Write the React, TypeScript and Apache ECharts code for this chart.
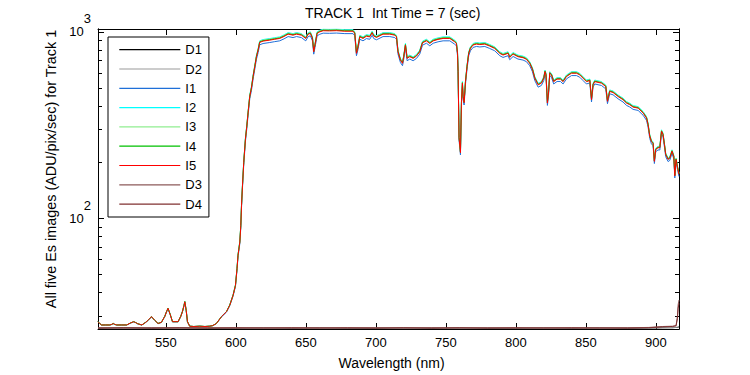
import React, { useEffect, useRef } from "react";
import * as echarts from "echarts";

// ---- data ----
const wavelength = [
  501.6, 503.0, 504.1, 507.1, 510.0, 511.5, 512.4, 513.5, 515.0, 518.6, 522.1, 525.0, 527.1, 528.5, 530.0,
  532.9, 535.7, 537.8, 539.8, 542.1, 544.5, 546.9, 549.3, 550.5, 551.6, 553.2, 554.8, 558.8, 560.7, 561.9,
  563.0, 563.6, 564.6, 565.5, 567.1, 570.0, 574.3, 578.0, 581.4, 583.6, 586.2, 589.8, 593.4, 595.7, 598.1,
  599.8, 600.9, 601.6, 602.9, 603.6, 604.1, 604.8, 605.7, 606.9, 607.9, 608.8, 610.0, 611.2, 612.4, 613.6,
  614.8, 616.0, 617.1, 619.5, 624.3, 627.5, 631.4, 634.5, 637.4, 640.9, 643.4, 646.9, 650.0, 651.7, 653.3,
  654.8, 655.7, 656.6, 658.1, 660.0, 662.4, 667.0, 671.9, 677.9, 683.8, 685.0, 686.2, 687.1, 688.6, 690.9,
  693.3, 695.7, 697.4, 698.6, 700.5, 705.2, 710.0, 713.6, 714.8, 715.9, 717.6, 719.1, 720.0, 721.2, 722.4,
  724.3, 726.7, 729.1, 731.4, 733.4, 736.2, 738.6, 741.0, 744.5, 748.1, 752.9, 756.4, 757.6, 758.4, 758.8,
  759.5, 760.5, 761.2, 761.9, 762.4, 763.1, 764.1, 765.2, 766.4, 767.6, 769.5, 771.9, 774.3, 777.9, 781.4,
  785.0, 788.6, 790.9, 794.5, 795.7, 798.1, 801.6, 805.2, 807.6, 810.0, 811.9, 813.6, 816.0, 818.3, 820.0,
  820.9, 821.6, 822.6, 823.4, 824.3, 825.5, 827.1, 829.5, 831.9, 833.8, 836.2, 839.8, 843.4, 845.7, 848.1,
  850.5, 852.9, 854.1, 855.2, 856.4, 861.2, 864.3, 865.5, 867.1, 869.5, 873.1, 876.6, 879.1, 881.4, 883.8,
  887.4, 891.0, 893.4, 894.5, 895.7, 896.9, 898.1, 899.0, 900.0, 901.6, 902.9, 904.1, 905.2, 906.2, 907.1,
  908.8, 910.0, 911.6, 912.9, 913.6, 914.5, 915.5, 916.6,
];

// I5 (red) signal, ADU/pix/sec
const signalI5 = [
  27.9, 27.2, 26.8, 26.8, 26.8, 27.0, 27.3, 27.0, 26.8, 26.8, 26.8, 27.5, 27.9, 27.6, 27.2,
  26.8, 27.7, 28.6, 29.7, 28.4, 27.3, 27.7, 29.8, 31.5, 32.9, 30.5, 27.9, 27.9, 29.8, 31.6,
  34.0, 35.7, 32.1, 27.9, 26.4, 26.3, 26.4, 26.3, 26.4, 26.6, 27.3, 29.7, 31.6, 34.2, 38.7,
  43.7, 53.7, 63.2, 74.5, 91.3, 116.7, 149.2, 198.9, 264.7, 311.7, 367.3, 450.4, 499.3, 575.6, 650.8,
  735.8, 798.8, 878.1, 892, 903, 912, 922, 945, 972, 960, 972, 960, 922, 972, 981,
  922, 782, 850, 981, 1000, 1014, 1012, 1015, 1008, 1008, 981, 767, 815, 940, 922,
  948, 940, 988, 948, 934, 972, 972, 960, 940, 782, 706, 678, 736, 850, 721,
  736, 721, 742, 782, 874, 895, 867, 895, 911, 922, 922, 884, 867, 767, 612,
  270, 225, 417, 531, 450, 417, 541, 651, 767, 815, 850, 860, 855, 860, 839,
  815, 767, 751, 767, 730, 760, 736, 727, 713, 678, 630, 564, 520, 531, 564,
  612, 588, 415, 470, 600, 588, 541, 558, 558, 541, 576, 600, 600, 588, 564,
  541, 548, 433, 520, 541, 531, 509, 424, 479, 473, 450, 433, 415, 407, 395,
  390, 367, 345, 318, 276, 258, 252, 202, 234, 239, 239, 293, 281, 248, 220,
  207, 210, 229, 214, 169, 207, 188, 172,
];

const channelNames = ["I1", "I2", "I3", "I4", "I5"];
const channelGain = [0.97, 1.02, 1.013, 1.006, 1.0];
const channelColors = ["#1f6fd8", "#00ffff", "#90ee90", "#00c000", "#ff0000"];
const darkLevel = 26.0;

const darkNames = ["D1", "D2", "D3", "D4"];
const darkColors = ["#000000", "#999999", "#8c5a5a", "#803030"];
const darkWavelength = [
  501.6, 520, 540, 560, 580, 600, 620, 640, 660, 680, 700, 720, 740, 760, 780, 800, 820, 840, 860, 880,
  895, 905, 912, 914.5, 915.5, 916.0, 916.6,
];
const darkD1 = [
  25.7, 25.8, 25.7, 25.8, 25.7, 25.7, 25.8, 25.7, 25.8, 25.7, 25.7, 25.8, 25.7, 25.8, 25.7, 25.7, 25.8, 25.7, 25.8, 25.7,
  25.8, 25.9, 25.9, 26.0, 26.0, 26.1, 26.2,
];
const darkD2 = [
  25.8, 25.7, 25.8, 25.7, 25.8, 25.8, 25.7, 25.8, 25.7, 25.8, 25.8, 25.7, 25.8, 25.7, 25.8, 25.8, 25.7, 25.8, 25.7, 25.8,
  25.8, 25.9, 26.0, 26.0, 26.1, 26.2, 26.3,
];
const darkD3 = [
  25.9, 25.8, 25.9, 25.8, 25.9, 25.8, 25.9, 25.8, 25.9, 25.8, 25.9, 25.8, 25.9, 25.8, 25.9, 25.8, 25.9, 25.8, 25.9, 25.9,
  26.0, 26.3, 26.4, 26.6, 30.0, 34.5, 36.5,
];
const darkD4 = [
  25.8, 25.9, 25.8, 25.9, 25.8, 25.9, 25.8, 25.9, 25.8, 25.9, 25.8, 25.9, 25.8, 25.9, 25.8, 25.9, 25.8, 25.9, 25.8, 25.8,
  25.9, 26.2, 26.3, 26.5, 29.0, 33.0, 35.0,
];

const legendOrder = ["D1", "D2", "I1", "I2", "I3", "I4", "I5", "D3", "D4"];
const xTicks = [550, 600, 650, 700, 750, 800, 850, 900];
const yMajorTicks = [100, 1000];
const yMinorTicks = [30, 40, 50, 60, 70, 80, 90, 200, 300, 400, 500, 600, 700, 800, 900];
const xLimits = [501.6, 916.6];
const yLimits = [25.5, 1036];

const FONT = "'Liberation Sans', Arial, Helvetica, sans-serif";

export default function App() {
  const ref = useRef<HTMLDivElement>(null);

  useEffect(() => {
    if (!ref.current) return;
    const chart = echarts.init(ref.current, undefined, { renderer: "svg" });

    const colorOf: Record<string, string> = {};
    channelNames.forEach((n, k) => (colorOf[n] = channelColors[k]));
    darkNames.forEach((n, k) => (colorOf[n] = darkColors[k]));

    const lineSeries = (name: string, xs: number[], ys: number[]) => ({
      name,
      type: "line",
      xAxisIndex: 0,
      yAxisIndex: 0,
      symbol: "none",
      silent: true,
      color: colorOf[name],
      lineStyle: { color: colorOf[name], width: 1 },
      itemStyle: { color: colorOf[name] },
      emphasis: { disabled: true },
      data: xs.map((x, i) => [x, ys[i]]),
    });

    const iSeries = channelNames.map((n, k) =>
      lineSeries(
        n,
        wavelength,
        signalI5.map((v) => darkLevel + channelGain[k] * (v - darkLevel))
      )
    );

    const series = [
      lineSeries("D1", darkWavelength, darkD1),
      lineSeries("D2", darkWavelength, darkD2),
      ...iSeries,
      lineSeries("D3", darkWavelength, darkD3),
      lineSeries("D4", darkWavelength, darkD4),
    ];

    const axisLine = { show: true, onZero: false, lineStyle: { color: "#000", width: 1 } };
    const yBase = {
      type: "log",
      logBase: 10,
      min: yLimits[0],
      max: yLimits[1],
      axisLine,
      splitLine: { show: false },
      minorTick: { show: false },
    };

    const option = {
      animation: false,
      backgroundColor: "#ffffff",
      title: {
        text: "TRACK 1  Int Time = 7 (sec)",
        left: 305,
        top: 6,
        padding: 0,
        textStyle: { fontFamily: FONT, fontSize: 14, fontWeight: "normal", color: "#000" },
      },
      legend: {
        orient: "vertical",
        left: 108,
        top: 37,
        padding: [5.7, 7, 5.9, 10.7],
        itemWidth: 61,
        itemHeight: 14,
        itemGap: 5.3,
        backgroundColor: "#ffffff",
        borderColor: "#000000",
        borderWidth: 1,
        borderRadius: 0,
        itemStyle: { opacity: 0, borderWidth: 0 },
        textStyle: { fontFamily: FONT, fontSize: 13, color: "#000", lineHeight: 14 },
        data: legendOrder.map((n) => ({
          name: n,
          lineStyle: { color: colorOf[n], width: 1.2, opacity: 1 },
        })),
      },
      grid: { left: 98, right: 71, top: 29, bottom: 44.5, containLabel: false },
      xAxis: [
        {
          type: "value",
          position: "bottom",
          min: xLimits[0],
          max: xLimits[1],
          name: "Wavelength (nm)",
          nameLocation: "middle",
          nameGap: 27,
          nameTextStyle: { fontFamily: FONT, fontSize: 14, color: "#000", padding: [0, 0, 0, 6] },
          axisLine,
          axisTick: { show: true, inside: true, length: 6, customValues: xTicks, lineStyle: { color: "#000" } },
          axisLabel: { show: true, customValues: xTicks, fontFamily: FONT, fontSize: 13, color: "#000", margin: 7 },
          splitLine: { show: false },
        },
        {
          type: "value",
          position: "top",
          min: xLimits[0],
          max: xLimits[1],
          axisLine,
          axisTick: { show: true, inside: true, length: 6, customValues: xTicks, lineStyle: { color: "#000" } },
          axisLabel: { show: false },
          splitLine: { show: false },
        },
      ],
      yAxis: [
        {
          ...yBase,
          position: "left",
          name: "All five Es images (ADU/pix/sec) for Track 1",
          nameLocation: "middle",
          nameRotate: 90,
          nameGap: 36,
          nameTextStyle: { fontFamily: FONT, fontSize: 14.4, color: "#000", padding: [0, 0, 0, 20] },
          axisTick: { show: true, inside: true, length: 6, customValues: yMajorTicks, lineStyle: { color: "#000" } },
          axisLabel: {
            show: true,
            customValues: yMajorTicks,
            margin: 7,
            formatter: (v: number) => `{b|10}{s|${Math.round(Math.log10(v))}}`,
            rich: {
              b: { fontFamily: FONT, fontSize: 13, color: "#000" },
              s: { fontFamily: FONT, fontSize: 13, color: "#000", padding: [0, 0, 26, 0] },
            },
          },
        },
        {
          ...yBase,
          position: "left",
          axisTick: { show: true, inside: true, length: 4, customValues: yMinorTicks, lineStyle: { color: "#000" } },
          axisLabel: { show: false },
        },
        {
          ...yBase,
          position: "right",
          axisTick: { show: true, inside: true, length: 6, customValues: yMajorTicks, lineStyle: { color: "#000" } },
          axisLabel: { show: false },
        },
        {
          ...yBase,
          position: "right",
          axisTick: { show: true, inside: true, length: 4, customValues: yMinorTicks, lineStyle: { color: "#000" } },
          axisLabel: { show: false },
        },
      ],
      series,
    };

    chart.setOption(option as any);
    return () => chart.dispose();
  }, []);

  return (
    <div
      ref={ref}
      style={{ position: "fixed", left: 0, top: 0, width: 750, height: 375, background: "#fff" }}
    />
  );
}
